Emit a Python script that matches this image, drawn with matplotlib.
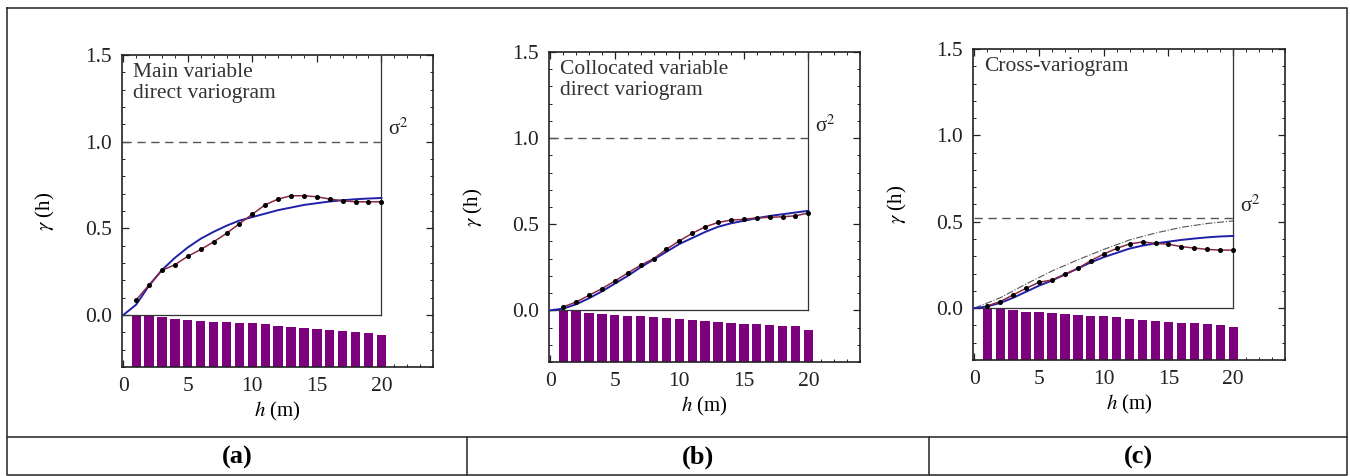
import numpy as np
import matplotlib
matplotlib.use("Agg")
import matplotlib.pyplot as plt
from matplotlib.lines import Line2D
from matplotlib.ticker import MultipleLocator

plt.rcParams['font.family'] = ['Liberation Serif', 'DejaVu Serif']
plt.rcParams['mathtext.fontset'] = 'stix'

# ---------------- data ----------------
lags = [1, 2, 3, 4, 5, 6, 7, 8, 9, 10, 11, 12, 13, 14, 15, 16, 17, 18, 19, 20]
model_h = [0, 1, 2, 3, 4, 5, 6, 7, 8, 9, 10, 11, 12, 13, 14, 15, 16, 17, 18, 19, 20]

exp_a = [0.087, 0.174, 0.258, 0.29, 0.339, 0.378, 0.422, 0.471, 0.527, 0.581,
         0.636, 0.669, 0.688, 0.688, 0.682, 0.669, 0.659, 0.653, 0.653, 0.653]
model_a = [0.0, 0.06, 0.17, 0.26, 0.33, 0.39, 0.44, 0.48, 0.515, 0.545, 0.565,
           0.585, 0.605, 0.62, 0.635, 0.645, 0.655, 0.662, 0.668, 0.672, 0.675]
pairs_a = [0.0, 0.006, 0.013, 0.021, 0.029, 0.033, 0.039, 0.043, 0.047, 0.048,
           0.054, 0.064, 0.068, 0.074, 0.081, 0.087, 0.093, 0.097, 0.103, 0.116]

exp_b = [0.02, 0.048, 0.087, 0.126, 0.17, 0.217, 0.262, 0.30, 0.355, 0.403,
         0.447, 0.485, 0.51, 0.524, 0.528, 0.537, 0.54, 0.543, 0.549, 0.565]
model_b = [0.0, 0.01, 0.035, 0.07, 0.11, 0.155, 0.2, 0.25, 0.295, 0.34, 0.385,
           0.42, 0.455, 0.485, 0.505, 0.52, 0.535, 0.548, 0.558, 0.568, 0.578]
pairs_b = [0.0, 0.006, 0.014, 0.019, 0.025, 0.031, 0.035, 0.041, 0.043, 0.05,
           0.054, 0.064, 0.07, 0.074, 0.078, 0.081, 0.085, 0.089, 0.093, 0.116]

exp_c = [0.013, 0.038, 0.077, 0.115, 0.15, 0.163, 0.196, 0.23, 0.275, 0.313,
         0.346, 0.372, 0.383, 0.375, 0.37, 0.356, 0.348, 0.34, 0.336, 0.336]
model_c = [0.0, 0.01, 0.03, 0.06, 0.095, 0.13, 0.16, 0.195, 0.23, 0.265, 0.295,
           0.32, 0.345, 0.362, 0.375, 0.385, 0.395, 0.403, 0.41, 0.415, 0.418]
ref_c_h = [0, 2, 4, 6, 8, 10, 12, 14, 16, 18, 20]
ref_c = [0.0, 0.06, 0.14, 0.215, 0.28, 0.34, 0.395, 0.435, 0.468, 0.49, 0.505]
pairs_c = [0.0, 0.006, 0.013, 0.021, 0.025, 0.029, 0.034, 0.038, 0.044, 0.048,
           0.053, 0.063, 0.068, 0.074, 0.08, 0.084, 0.087, 0.093, 0.099, 0.11]

sills = [1.0, 1.0, 0.52]
titles = ["Main variable\ndirect variogram",
          "Collocated variable\ndirect variogram",
          "Cross-variogram"]
panel_labels = ["(a)", "(b)", "(c)"]

# ---------------- figure ----------------
W, H = 1350, 476
fig = plt.figure(figsize=(W / 100, H / 100), dpi=100)

def fx(px):
    return px / W

def fy(py):
    return 1 - py / H

boxes = [(122, 433, 55, 367), (549, 860, 52, 362), (973, 1285, 49, 360)]

BAR_C = '#7d007d'
EXP_C = '#8b2846'
MOD_C = '#2020a8'

datasets = [(exp_a, model_a, pairs_a), (exp_b, model_b, pairs_b), (exp_c, model_c, pairs_c)]

for i, (l, r, t, b) in enumerate(boxes):
    ax = fig.add_axes([fx(l), fy(b), (r - l) / W, (b - t) / H])
    exp_v, mod_v, pairs = datasets[i]
    ymin = -0.3
    ax.set_xlim(-0.1, 24)
    ax.set_ylim(ymin, 1.5)

    # pair-count bars from bottom up to -depth
    tops = [-d for d in pairs]
    ax.bar(lags, [tp - ymin for tp in tops], bottom=ymin, width=0.72,
           color=BAR_C, edgecolor='none', zorder=2)

    # frame lines at 0 and 20
    ax.plot([0, 20], [0, 0], color='#333333', lw=0.9, zorder=3)
    ax.plot([20, 20], [0, 1.5], color='#333333', lw=0.9, zorder=3)

    # sill
    ax.plot([0, 20], [sills[i], sills[i]], color='#555555', lw=1.0,
            dashes=(6, 4), zorder=3)
    ax.text(20.5, sills[i] + 0.01, '\u03c3$^{2}$', fontsize=15,
            va='bottom', ha='left', color='#222222')

    if i == 2:
        ax.plot(ref_c_h, ref_c, color='#555555', lw=0.8, ls='-.', zorder=3)

    ax.plot(model_h, mod_v, color=MOD_C, lw=1.4, zorder=4)
    ax.plot(lags, exp_v, color=EXP_C, lw=1.1, zorder=5)
    ax.plot(lags, exp_v, 'o', color='black', ms=2.6, zorder=6)

    ax.text(0.035, 0.975, titles[i], transform=ax.transAxes, fontsize=15.5,
            va='top', ha='left', color='#333333', linespacing=1.15)

    ax.set_xticks([0, 5, 10, 15, 20])
    ax.set_yticks([0.0, 0.5, 1.0, 1.5])
    ax.set_yticklabels(['0.0', '0.5', '1.0', '1.5'])
    ax.xaxis.set_minor_locator(MultipleLocator(1))
    ax.yaxis.set_minor_locator(MultipleLocator(0.1))
    ax.tick_params(which='both', direction='in', top=True, right=True,
                   labelsize=15.5, colors='#222222')
    ax.tick_params(which='major', length=5, width=0.9, pad=7)
    ax.tick_params(which='minor', length=2.5, width=0.7)
    for sp in ax.spines.values():
        sp.set_linewidth(1.2)
        sp.set_color('#222222')
    ax.set_xlabel(r'$h$ (m)', fontsize=15, labelpad=3)
    ax.set_ylabel(r'$\gamma$ (h)', fontsize=15, labelpad=20)

# outer frame and table
lc = '#333333'
fig.add_artist(Line2D([fx(7), fx(1347), fx(1347), fx(7), fx(7)],
                      [fy(8), fy(8), fy(475), fy(475), fy(8)],
                      transform=fig.transFigure, color=lc, lw=1.2))
fig.add_artist(Line2D([fx(7), fx(1347)], [fy(437), fy(437)],
                      transform=fig.transFigure, color=lc, lw=1.2))
for sx in (467, 929):
    fig.add_artist(Line2D([fx(sx), fx(sx)], [fy(437), fy(475)],
                          transform=fig.transFigure, color=lc, lw=1.2))
for cx, lab in zip((237, 698, 1138), panel_labels):
    fig.text(fx(cx), fy(457), lab, fontsize=19, fontweight='bold',
             ha='center', va='center')

fig.savefig('out.png', dpi=100)
